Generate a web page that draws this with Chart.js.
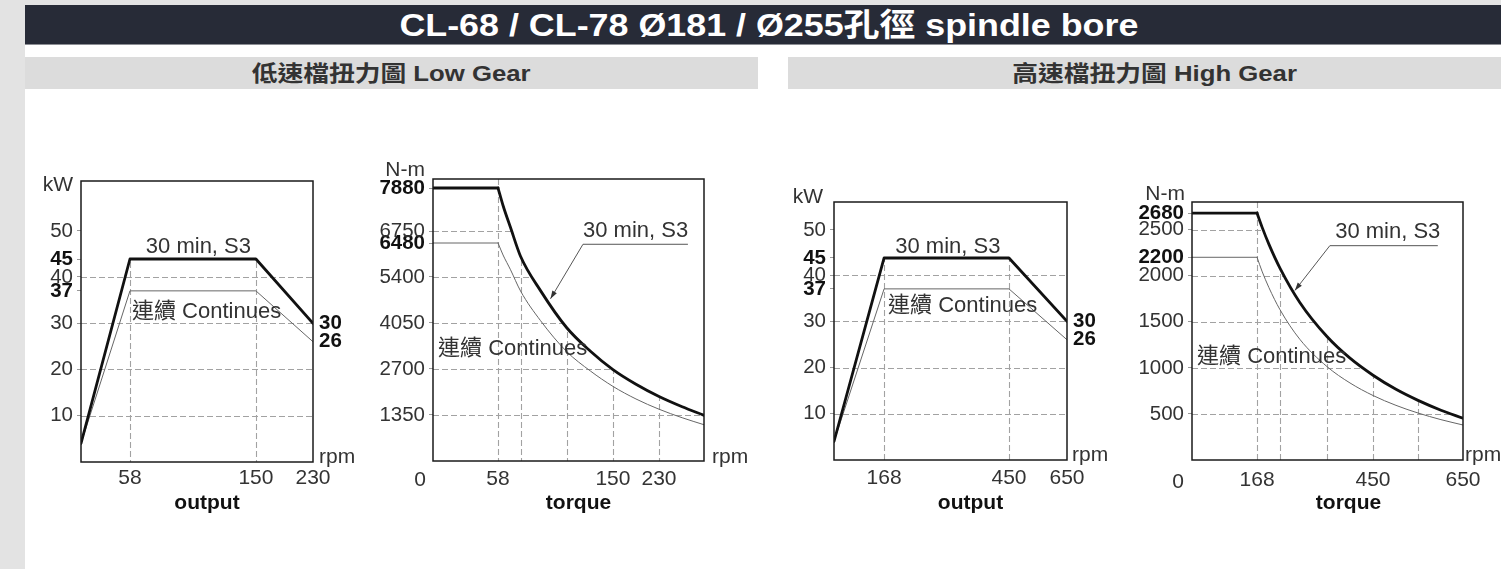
<!DOCTYPE html>
<html>
<head>
<meta charset="utf-8">
<script src="https://cdn.jsdelivr.net/npm/chart.js@4.4.1/dist/chart.umd.min.js"></script>
<style>
  html, body { margin:0; padding:0; }
  body { width:1501px; height:569px; overflow:hidden; background:#fff; position:relative;
         font-family:"Liberation Sans","Noto Sans CJK TC",Arial,sans-serif; }
  .abs { position:absolute; }
  #strip { left:0; top:0; width:25px; height:569px; background:#e3e3e3; }
  #topstrip { left:0; top:0; width:1501px; height:5px; background:#e3e3e3; }
  #title { left:25px; top:5px; width:1488px; height:39px; background:#272b37; border-bottom:1px solid #8c8e94;
           color:#fff; font-weight:bold; font-size:32px; line-height:40px; text-align:center; white-space:nowrap; }
  .sub { top:57px; width:733px; height:32px; background:#dcdcdc; color:#333; font-weight:bold; font-size:22px;
         line-height:33px; text-align:center; white-space:nowrap; }
  .stretch { display:inline-block; transform:scaleX(1.12); transform-origin:center; }
  .sub .stretch { transform:scaleX(1.17); }
  canvas { position:absolute; }
</style>
</head>
<body>
<div id="strip" class="abs"></div>
<div id="topstrip" class="abs"></div>
<div id="title" class="abs"><span class="stretch" id="titleText"></span></div>
<div class="abs sub" style="left:25px"><span class="stretch" id="subLow"></span></div>
<div class="abs sub" style="left:788px"><span class="stretch" id="subHigh"></span></div>
<canvas id="c1" width="345" height="390" style="left:25px;top:140px"></canvas>
<canvas id="c2" width="390" height="390" style="left:370px;top:140px"></canvas>
<canvas id="c3" width="345" height="390" style="left:770px;top:140px"></canvas>
<canvas id="c4" width="386" height="390" style="left:1115px;top:140px"></canvas>
<script>
// ---------------- texts ----------------
const titleText = 'CL-68 / CL-78 Ø181 / Ø255孔徑 spindle bore';
const subLowText = '低速檔扭力圖 Low Gear';
const subHighText = '高速檔扭力圖 High Gear';
const labelS3 = '30 min, S3';
const labelCont = '連續 Continues';

// ---------------- data ----------------
// Low gear output (kW vs rpm)
const lowOutputRpm   = [0, 58, 150, 230];
const lowOutputS3    = [4, 45, 45, 30];
const lowOutputCont  = [4, 37, 37, 26];
const lowOutputYTicks = [10, 20, 30, 37, 40, 45, 50];
const lowOutputBold   = [45, 37];
const lowOutputRight  = [30, 26];
const lowOutputXTicks = [58, 150, 230];

// Low gear torque (N-m vs rpm)
const lowTorqueRpm  = [0, 58, 62, 68, 76, 92, 113, 132, 150, 190, 230, 266, 300];
const lowTorqueS3   = [7880, 7880, 7420, 6840, 6060, 5000, 3910, 3220, 2680, 2250, 1890, 1590, 1340];
const lowTorqueCont = [6480, 6480, 6100, 5630, 4990, 4120, 3210, 2640, 2190, 1820, 1520, 1270, 1065];
const lowTorqueYTicks = [1350, 2700, 4050, 5400, 6480, 6750, 7880];
const lowTorqueBold   = [7880, 6480];
const lowTorqueXTicks = [58, 150, 230];
const lowTorqueXGrid  = [76, 113, 150, 230];

// High gear output (kW vs rpm)
const highOutputRpm  = [0, 168, 450, 650];
const highOutputS3   = [4, 45, 45, 30];
const highOutputCont = [4, 37, 37, 26];
const highOutputYTicks = [10, 20, 30, 37, 40, 45, 50];
const highOutputBold   = [45, 37];
const highOutputRight  = [30, 26];
const highOutputXTicks = [168, 450, 650];

// High gear torque (N-m vs rpm)
const highTorqueRpm  = [0, 168, 180, 197, 224, 272, 338, 394, 450, 501, 550, 601, 650];
const highTorqueS3   = [2680, 2680, 2530, 2340, 2080, 1710, 1340, 1105, 920, 767, 647, 540, 453];
const highTorqueCont = [2200, 2200, 2050, 1870, 1630, 1310, 1014, 836, 700, 593, 510, 438, 380];
const highTorqueYTicks = [500, 1000, 1500, 2000, 2200, 2500, 2680];
const highTorqueBold   = [2680, 2200];
const highTorqueXTicks = [168, 450, 650];
const highTorqueXGrid  = [224, 338, 450, 550];

// ---------------- headers ----------------
document.getElementById('titleText').textContent = titleText;
document.getElementById('subLow').textContent = subLowText;
document.getElementById('subHigh').textContent = subHighText;

// ---------------- styling ----------------
const FONT = '"Liberation Sans", "Noto Sans CJK TC", Arial, sans-serif';
const TXT = '#333';
const GRID = '#a2a2a2';
const TICK_SIZE = 20.5;

// schematic (piecewise-linear) axis, as in the catalogue drawing
class PiecewiseScale extends Chart.LinearScale {
  static id = 'piecewise';
  static defaults = {};
  _frac(v) {
    const b = this.options.breaks;
    if (v <= b[0][0]) return b[0][1];
    for (let i = 1; i < b.length; i++) {
      if (v <= b[i][0]) {
        const [v0, f0] = b[i - 1], [v1, f1] = b[i];
        return f0 + (v - v0) / (v1 - v0) * (f1 - f0);
      }
    }
    return b[b.length - 1][1];
  }
  getPixelForValue(v) { return v == null ? NaN : this.getPixelForDecimal(this._frac(v)); }
  getValueForPixel(p) {
    const f = this.getDecimalForPixel(p), b = this.options.breaks;
    for (let i = 1; i < b.length; i++) {
      if (f <= b[i][1]) {
        const [v0, f0] = b[i - 1], [v1, f1] = b[i];
        return v0 + (f - f0) / (f1 - f0) * (v1 - v0);
      }
    }
    return b[b.length - 1][0];
  }
}
Chart.register(PiecewiseScale);

function series(rpm, vals, thick, splitAt) {
  const pts = rpm.map((x, i) => ({ x, y: vals[i] }));
  const base = {
    borderColor: thick ? '#111' : '#666', borderWidth: thick ? 2.8 : 1,
    pointRadius: 0, fill: false, tension: 0, order: thick ? 0 : 1, thick,
    borderJoinStyle: 'round', borderCapStyle: 'round'
  };
  if (splitAt == null) return [{ ...base, data: pts }];
  return [
    { ...base, data: pts.slice(0, splitAt + 1) },
    { ...base, data: pts.slice(splitAt), cubicInterpolationMode: 'monotone' }
  ];
}

function txt(ctx, s, x, y, o = {}) {
  ctx.font = (o.bold ? 'bold ' : '') + (o.size || 21) + 'px ' + FONT;
  ctx.fillStyle = o.color || TXT;
  ctx.textAlign = o.align || 'left';
  ctx.textBaseline = 'middle';
  ctx.fillText(s, x, y);
}

function thickPath(chart) {
  const ctx = chart.ctx, a = chart.chartArea;
  let first = true, last = null;
  ctx.beginPath();
  chart.data.datasets.forEach((d, di) => {
    if (!d.thick) return;
    const meta = chart.getDatasetMeta(di);
    if (meta.dataset && meta.dataset.updateControlPoints) {
      try { meta.dataset.updateControlPoints(a, 'x'); } catch (e) {}
    }
    const pts = meta.data;
    pts.forEach((p, i) => {
      if (first) { ctx.moveTo(p.x, a.bottom); ctx.lineTo(p.x, p.y); first = false; }
      else if (i === 0) ctx.lineTo(p.x, p.y);
      else {
        const q = pts[i - 1];
        if (d.cubicInterpolationMode === 'monotone' && q.cp2x != null && p.cp1x != null)
          ctx.bezierCurveTo(q.cp2x, q.cp2y, p.cp1x, p.cp1y, p.x, p.y);
        else ctx.lineTo(p.x, p.y);
      }
      last = p;
    });
  });
  ctx.lineTo(last.x, a.bottom);
  ctx.closePath();
}

function makeDeco(cfg) {
  return {
    id: 'deco',
    beforeDatasetsDraw(chart) {
      const { ctx, chartArea: a, scales: { x, y } } = chart;
      const hline = v => { const py = Math.round(y.getPixelForValue(v)) + 0.5;
        ctx.beginPath(); ctx.moveTo(a.left, py); ctx.lineTo(a.right, py); ctx.stroke(); };
      const vline = v => { const px = Math.round(x.getPixelForValue(v)) + 0.5;
        ctx.beginPath(); ctx.moveTo(px, a.top); ctx.lineTo(px, a.bottom); ctx.stroke(); };
      ctx.save();
      ctx.strokeStyle = GRID; ctx.lineWidth = 1.1; ctx.setLineDash([6, 3]);
      (cfg.yFull || []).forEach(hline);
      (cfg.xFull || []).forEach(vline);
      ctx.save();
      thickPath(chart); ctx.clip();
      (cfg.yUnder || []).forEach(hline);
      (cfg.xUnder || []).forEach(vline);
      ctx.restore();
      ctx.restore();
    },
    afterDatasetsDraw(chart) {
      const { ctx, chartArea: a, scales: { x, y } } = chart;
      ctx.save();
      ctx.setLineDash([]);
      ctx.strokeStyle = '#1a1a1a'; ctx.lineWidth = 1.5;
      ctx.strokeRect(a.left, a.top, a.right - a.left, a.bottom - a.top);
      // leader line with arrow
      if (cfg.leader) {
        const p = cfg.leader.map(([vx, vy]) => [x.getPixelForValue(vx), y.getPixelForValue(vy)]);
        ctx.strokeStyle = '#555'; ctx.lineWidth = 1;
        ctx.beginPath(); ctx.moveTo(p[0][0], p[0][1]);
        for (let i = 1; i < p.length; i++) ctx.lineTo(p[i][0], p[i][1]);
        ctx.stroke();
        const [tx, ty] = p[p.length - 1], [sx, sy] = p[p.length - 2];
        const ang = Math.atan2(ty - sy, tx - sx), L = 8, W = 2.6;
        ctx.fillStyle = '#333';
        ctx.beginPath();
        ctx.moveTo(tx, ty);
        ctx.lineTo(tx - L * Math.cos(ang) + W * Math.sin(ang), ty - L * Math.sin(ang) - W * Math.cos(ang));
        ctx.lineTo(tx - L * Math.cos(ang) - W * Math.sin(ang), ty - L * Math.sin(ang) + W * Math.cos(ang));
        ctx.closePath(); ctx.fill();
      }
      // notes in data coordinates
      (cfg.notes || []).forEach(n => txt(ctx, n.t, x.getPixelForValue(n.x), y.getPixelForValue(n.y),
        { size: 22, align: n.align }));
      // axis captions relative to the plot box
      (cfg.labels || []).forEach(l => {
        const bx = l.at === 'tl' || l.at === 'bl' ? a.left : l.at === 'bc' ? (a.left + a.right) / 2 : a.right;
        const by = l.at === 'tl' ? a.top : a.bottom;
        txt(ctx, l.t, bx + l.dx, by + l.dy, { align: l.align, bold: l.bold, size: l.size || 21,
          color: l.bold ? '#111' : TXT });
      });
      ctx.restore();
    }
  };
}

function makeChart(id, cfg) {
  const boldSet = cfg.bold;
  const yAxisType = cfg.yBreaks ? { type: 'piecewise', breaks: cfg.yBreaks } : { type: 'linear' };
  const scales = {
    x: {
      type: 'piecewise', breaks: cfg.breaks, min: 0, max: cfg.breaks[cfg.breaks.length - 1][0],
      afterBuildTicks: s => { s.ticks = cfg.xTicks.map(v => ({ value: v })); },
      afterFit: s => { s.height = cfg.box.bottom; },
      grid: { display: false, drawTicks: false, tickLength: 0 }, border: { display: false },
      ticks: { autoSkip: false, maxRotation: 0, minRotation: 0, padding: cfg.xPad, color: TXT,
               font: { family: FONT, size: 21 }, callback: v => String(v) }
    },
    y: {
      ...yAxisType, position: 'left', min: 0, max: cfg.yMax,
      afterBuildTicks: s => { s.ticks = cfg.yTicks.map(v => ({ value: v })); },
      afterFit: s => { s.width = cfg.box.left; },
      grid: { display: true, drawOnChartArea: false, drawTicks: true, tickLength: 4, tickColor: '#999', color: '#999', lineWidth: 1 },
      border: { display: false },
      ticks: {
        autoSkip: false, padding: 4, callback: v => String(v),
        font: c => ({ family: FONT, size: TICK_SIZE, weight: (c.tick && boldSet.includes(c.tick.value)) ? 'bold' : 'normal' }),
        color: c => (c.tick && boldSet.includes(c.tick.value)) ? '#111' : TXT
      }
    }
  };
  if (cfg.right) {
    scales.y2 = {
      ...yAxisType, position: 'right', min: 0, max: cfg.yMax,
      afterBuildTicks: s => { s.ticks = cfg.right.map(v => ({ value: v })); },
      afterFit: s => { s.width = cfg.box.right; },
      grid: { display: false, drawTicks: false, tickLength: 0 }, border: { display: false },
      ticks: { autoSkip: false, padding: 6, color: '#111', callback: v => String(v),
               font: { family: FONT, size: TICK_SIZE, weight: 'bold' } }
    };
  }
  return new Chart(document.getElementById(id), {
    type: 'line',
    data: { datasets: cfg.datasets },
    options: {
      responsive: false, animation: false, events: [],
      layout: { padding: { top: cfg.box.top, right: cfg.right ? 0 : cfg.box.right, left: 0, bottom: 0 } },
      plugins: { legend: { display: false }, tooltip: { enabled: false } },
      scales
    },
    plugins: [makeDeco(cfg)]
  });
}

// ---------------- charts ----------------
makeChart('c1', {
  box: { left: 56, right: 57, top: 41, bottom: 68 }, xPad: 4,
  breaks: [[0, 0], [58, 0.211], [150, 0.754], [230, 1]],
  yBreaks: [[0, 0], [40, 0.6584], [45, 0.7224], [50, 0.8221], [61, 1]],
  yMax: 61, yTicks: lowOutputYTicks, bold: lowOutputBold, right: lowOutputRight, xTicks: lowOutputXTicks,
  datasets: [...series(lowOutputRpm, lowOutputS3, true), ...series(lowOutputRpm, lowOutputCont, false)],
  yFull: [10, 20, 30, 40], xUnder: [58, 150],
  notes: [{ t: labelS3, x: 108, y: 47.2, align: 'center' }, { t: labelCont, x: 59.5, y: 32.5, align: 'left' }],
  labels: [{ t: 'kW', at: 'tl', dx: -8, dy: 4, align: 'right' },
           { t: 'rpm', at: 'br', dx: 6, dy: -5, align: 'left' },
           { t: 'output', at: 'bc', dx: 10, dy: 41, align: 'center', bold: true, size: 21 }]
});

makeChart('c2', {
  box: { left: 63, right: 56, top: 39, bottom: 69 }, xPad: 6,
  breaks: [[0, 0], [58, 0.24], [150, 0.664], [230, 0.834], [300, 1]],
  yBreaks: [[0, 0], [5400, 0.6525], [6480, 0.773], [6750, 0.8156], [7880, 0.968], [8260, 1]],
  yMax: 8260, yTicks: lowTorqueYTicks, bold: lowTorqueBold, xTicks: lowTorqueXTicks,
  datasets: [...series(lowTorqueRpm, lowTorqueS3, true, 1), ...series(lowTorqueRpm, lowTorqueCont, false, 1)],
  yUnder: [1350, 2700, 4050, 5400, 6750], xFull: [58], xUnder: lowTorqueXGrid,
  leader: [[275, 6440], [126, 6440], [100, 4760]],
  notes: [{ t: labelS3, x: 126, y: 6750, align: 'left' }, { t: labelCont, x: 4.5, y: 3275, align: 'left' }],
  labels: [{ t: 'N-m', at: 'tl', dx: -8, dy: -9, align: 'right' },
           { t: 'rpm', at: 'br', dx: 8, dy: -4, align: 'left' },
           { t: '0', at: 'bl', dx: -13, dy: 19, align: 'center' },
           { t: 'torque', at: 'bc', dx: 10, dy: 42, align: 'center', bold: true, size: 21 }]
});

makeChart('c3', {
  box: { left: 64, right: 48, top: 62, bottom: 70 }, xPad: 6,
  breaks: [[0, 0], [168, 0.215], [450, 0.751], [650, 1]],
  yBreaks: [[0, 0], [40, 0.717], [45, 0.783], [50, 0.8915], [56, 1]],
  yMax: 56, yTicks: highOutputYTicks, bold: highOutputBold, right: highOutputRight, xTicks: highOutputXTicks,
  datasets: [...series(highOutputRpm, highOutputS3, true), ...series(highOutputRpm, highOutputCont, false)],
  yFull: [10, 20, 30, 40], xUnder: [168, 450],
  notes: [{ t: labelS3, x: 312, y: 47, align: 'center' }, { t: labelCont, x: 177, y: 33.3, align: 'left' }],
  labels: [{ t: 'kW', at: 'tl', dx: -11, dy: -5, align: 'right' },
           { t: 'rpm', at: 'br', dx: 5, dy: -5, align: 'left' },
           { t: 'output', at: 'bc', dx: 20, dy: 43, align: 'center', bold: true, size: 21 }]
});

makeChart('c4', {
  box: { left: 77, right: 38, top: 62, bottom: 70 }, xPad: 8,
  breaks: [[0, 0], [168, 0.24], [450, 0.668], [650, 1]],
  yMax: 2800, yTicks: highTorqueYTicks, bold: highTorqueBold, xTicks: highTorqueXTicks,
  datasets: [...series(highTorqueRpm, highTorqueS3, true, 1), ...series(highTorqueRpm, highTorqueCont, false, 1)],
  yUnder: [500, 1000, 1500, 2000, 2500], xFull: [168], xUnder: highTorqueXGrid,
  leader: [[594, 2326], [345, 2326], [260, 1840]],
  notes: [{ t: labelS3, x: 358, y: 2478, align: 'left' }, { t: labelCont, x: 13, y: 1120, align: 'left' }],
  labels: [{ t: 'N-m', at: 'tl', dx: -7, dy: -8, align: 'right' },
           { t: 'rpm', at: 'br', dx: 2, dy: -5, align: 'left' },
           { t: '0', at: 'bl', dx: -14, dy: 22, align: 'center' },
           { t: 'torque', at: 'bc', dx: 21, dy: 43, align: 'center', bold: true, size: 21 }]
});
</script>
</body>
</html>
